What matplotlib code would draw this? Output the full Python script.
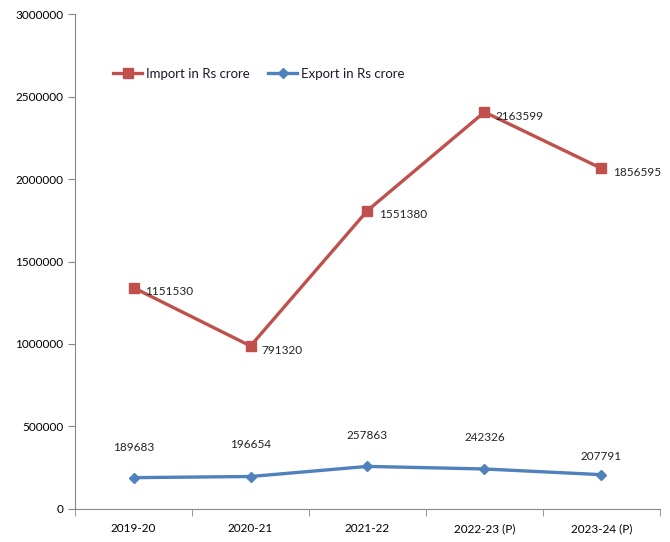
import matplotlib.pyplot as plt
import numpy as np

plt.rcParams['font.family'] = ['Lato', 'DejaVu Sans']

years = ['2019-20', '2020-21', '2021-22', '2022-23 (P)', '2023-24 (P)']
imports = [1151530, 791320, 1551380, 2163599, 1856595]
exports = [189683, 196654, 257863, 242326, 207791]

red = '#C0504D'
blue = '#4F81BD'

x = np.arange(len(years))
# stacked line: import is drawn on top of export
stacked = np.array(imports) + np.array(exports)

fig = plt.figure(figsize=(6.7, 5.42), dpi=100)
ax = fig.add_axes([0.112, 0.061, 0.873, 0.913])

ax.plot(x, stacked, color=red, linewidth=2.4, marker='s', markersize=7,
        label='Import in Rs crore')
ax.plot(x, exports, color=blue, linewidth=2.4, marker='D', markersize=5.5,
        label='Export in Rs crore')

for xi, yi, v in zip(x, stacked, imports):
    ax.annotate(str(v), (xi, yi), xytext=(8, -3), textcoords='offset points',
                ha='left', va='center', fontsize=8.5, color='#222222')

up = [22, 23, 22, 23, 13]
for xi, yi, v, u in zip(x, exports, exports, up):
    ax.annotate(str(v), (xi, yi), xytext=(0, u), textcoords='offset points',
                ha='center', va='center', fontsize=8.5, color='#222222')

ax.set_xlim(-0.5, len(years) - 0.5)
ax.set_ylim(0, 3000000)
ax.set_yticks(np.arange(0, 3000001, 500000))
ax.set_yticklabels([str(v) for v in range(0, 3000001, 500000)])
ax.set_xticks(x)
ax.set_xticklabels(years)
ax.set_xticks(np.arange(-0.5, len(years)), minor=True)
ax.tick_params(axis='x', which='major', length=0, pad=10, labelsize=8.5)
ax.tick_params(axis='x', which='minor', length=5, color='#888888')
ax.tick_params(axis='y', length=5, color='#888888', labelsize=8.5)

for s in ['top', 'right']:
    ax.spines[s].set_visible(False)
for s in ['left', 'bottom']:
    ax.spines[s].set_color('#888888')

leg = ax.legend(loc='upper left', bbox_to_anchor=(0.045, 0.915), ncol=2,
                frameon=False, fontsize=9.5, handlelength=2.2,
                columnspacing=1.4, handletextpad=0.3)
for t in leg.get_texts():
    t.set_color('#1a1a2e')

plt.savefig('out.png', dpi=100)
